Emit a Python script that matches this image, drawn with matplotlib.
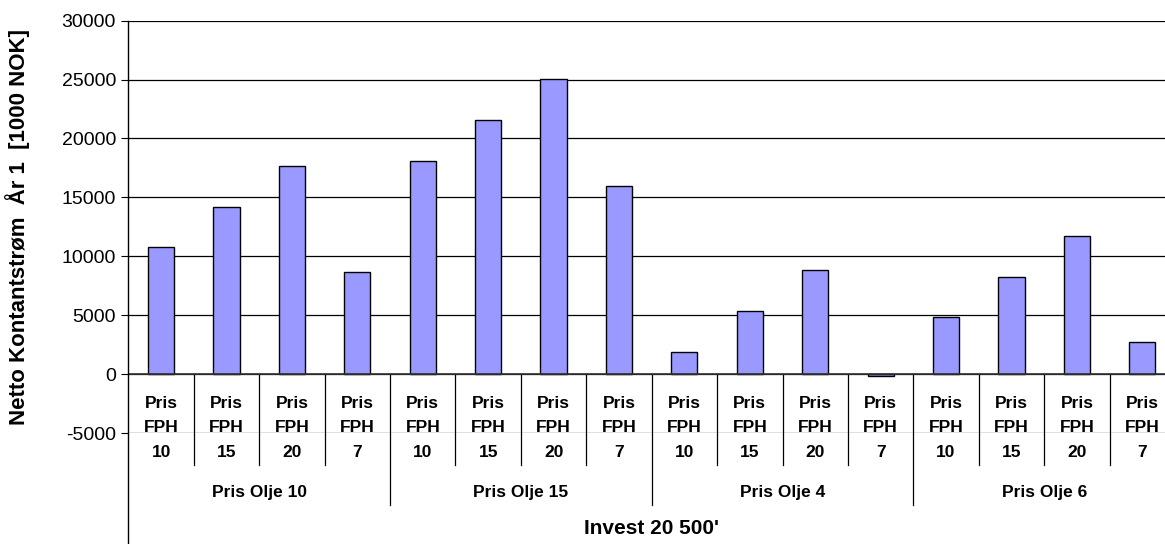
import matplotlib.pyplot as plt
import matplotlib.transforms as mtransforms
from matplotlib.lines import Line2D

# data
fph_prices = ["10", "15", "20", "7"] * 4
oil_groups = ["Pris Olje 10", "Pris Olje 15", "Pris Olje 4", "Pris Olje 6"]
cash_flow = [10800, 14200, 17700, 8650,
             18100, 21600, 25050, 16000,
             1850, 5350, 8870, -180,
             4830, 8250, 11750, 2740]
y_ticks = [-5000, 0, 5000, 10000, 15000, 20000, 25000, 30000]
top_label = "Invest 20 500'"
y_label = "Netto Kontantstrøm  År 1  [1000 NOK]"

W, H = 1165, 544
plt.rcParams['font.family'] = ['Liberation Sans', 'DejaVu Sans']

fig = plt.figure(figsize=(W / 100, H / 100), dpi=100)
ax_left, ax_right = 128.4, 1175
ax_top, ax_bot = 20.7, 433
ax = fig.add_axes([ax_left / W, 1 - ax_bot / H,
                   (ax_right - ax_left) / W, (ax_bot - ax_top) / H])

x = list(range(len(cash_flow)))
ax.bar(x, cash_flow, width=0.4, color='#9999FF', edgecolor='black',
       linewidth=1, zorder=3)

ax.set_xlim(-0.5, len(cash_flow) - 0.5)
ax.set_ylim(-5000, 30000)
ax.set_yticks(y_ticks)
ax.set_yticklabels([str(v) for v in y_ticks], fontsize=14)
ax.tick_params(axis='y', direction='out', length=5, width=0.8, pad=4,
               colors='black')
ax.set_xticks([])
for v in y_ticks:
    ax.axhline(v, color='black', linewidth=0.9, zorder=4 if v == -5000 else 1)
ax.axhline(0, color='#333333', linewidth=1.2, zorder=4)

for s in ['top', 'right', 'bottom', 'left']:
    ax.spines[s].set_visible(False)

# left axis line, continues down past the category labels
fig.add_artist(Line2D([ax_left / W, ax_left / W], [0, 1 - ax_top / H],
                      color='black', linewidth=1))

ax.set_ylabel(y_label, fontsize=16, fontweight='bold')
ax.yaxis.set_label_coords(-0.094, 0.5)

# multi-level category labels under the zero line
tr = mtransforms.blended_transform_factory(ax.transData, fig.transFigure)

def fy(p):
    return 1 - p / H

for i, p in enumerate(fph_prices):
    ax.text(i, fy(403), "Pris", transform=tr, ha='center', va='center',
            fontsize=12.5, fontweight='bold', clip_on=False, zorder=2)
    ax.text(i, fy(428), "FPH", transform=tr, ha='center', va='center',
            fontsize=12.5, fontweight='bold', clip_on=False, zorder=2)
    ax.text(i, fy(452.5), p, transform=tr, ha='center', va='center',
            fontsize=12.5, fontweight='bold', clip_on=False, zorder=2)

for k in range(1, len(cash_flow)):
    bottom = 505 if k % 4 == 0 else 465
    ax.add_artist(Line2D([k - 0.5, k - 0.5], [fy(374), fy(bottom)],
                         transform=tr, color='black', linewidth=0.9,
                         clip_on=False))

for g, name in enumerate(oil_groups):
    ax.text(g * 4 + 1.5, fy(493), name, transform=tr, ha='center',
            va='center', fontsize=12.5, fontweight='bold', clip_on=False)

ax.text((len(cash_flow) - 1) / 2, fy(528), top_label, transform=tr,
        ha='center', va='center', fontsize=15, fontweight='bold',
        clip_on=False)

fig.savefig("out.png", dpi=100)
